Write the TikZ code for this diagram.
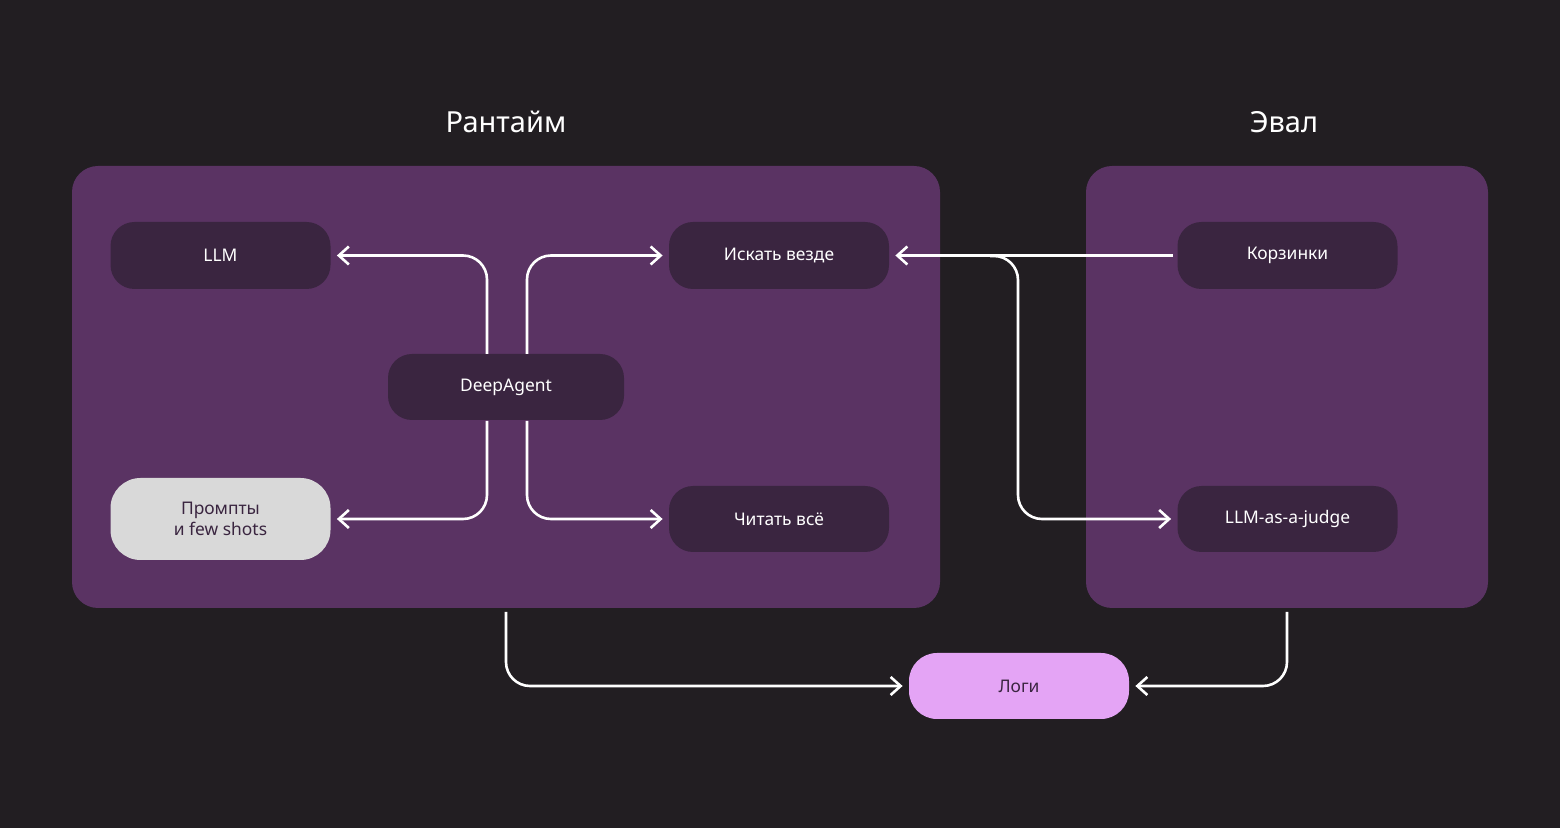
\documentclass[tikz,border=0pt]{standalone}
\usepackage{fontspec}
\setmainfont{Noto Sans}
\usetikzlibrary{arrows.meta}
\definecolor{bg}{HTML}{221E22}
\definecolor{panel}{HTML}{5A3363}
\definecolor{dnode}{HTML}{3A2540}
\definecolor{lnode}{HTML}{D9D9D9}
\definecolor{pink}{HTML}{E4A4F5}
\begin{document}
\begin{tikzpicture}[x=0.5pt,y=-0.5pt,
  panel/.style={fill=panel,rounded corners=13pt},
  box/.style={fill=dnode,rounded corners=12pt,text=white,font=\fontsize{8.7}{10.5}\selectfont,align=center},
  title/.style={text=white,font=\fontsize{14.5}{17}\selectfont\bfseries},
  arr/.style={draw=white,line width=1.3pt,rounded corners=12pt,-{Straight Barb[length=5pt,width=9pt,line width=1.3pt]}},
  ln/.style={draw=white,line width=1.3pt,rounded corners=12pt}]
\fill[bg] (0,0) rectangle (1560,828);
\node[title] (t1) at (506,122) {Рантайм};
\node[title] (t2) at (1284,122) {Эвал};
\path[panel] (72,166) rectangle (940,608);
\path[panel] (1086,166) rectangle (1488,608);
\coordinate (rb) at (506,612);
\coordinate (eb) at (1287,612);
\newcommand{\bx}[6]{\path[box,#6] (#2,#3) rectangle (#4,#5) node[pos=.5] (#1) {};}
\node[box,minimum width=110pt,minimum height=33.5pt] (llm) at (220.5,255.5) {LLM};
\node[box,minimum width=110pt,minimum height=33.5pt] (isk) at (779,255.5) {Искать везде};
\node[box,minimum width=118pt,minimum height=33pt] (da) at (506,387) {DeepAgent};
\node[box,fill=lnode,text=dnode,minimum width=110pt,minimum height=41pt,rounded corners=15pt] (pr) at (220.5,519) {Промпты\\и few shots};
\node[box,minimum width=110pt,minimum height=33pt] (cht) at (779,519) {Читать всё};
\node[box,minimum width=110pt,minimum height=33.5pt] (kor) at (1287.5,255.5) {Корзинки};
\node[box,minimum width=110pt,minimum height=33pt] (jud) at (1287.5,519) {LLM-as-a-judge};
\node[box,fill=pink,text=dnode,minimum width=110pt,minimum height=33pt,rounded corners=14pt] (log) at (1019,686) {Логи};
\draw[arr] (487,354) |- ([xshift=3pt]llm.east);
\draw[arr] (527,354) |- ([xshift=-3pt]isk.west);
\draw[arr] (487,421) |- ([xshift=3pt]pr.east);
\draw[arr] (527,421) |- ([xshift=-3pt]cht.west);
\draw[arr] ([xshift=-2pt]kor.west) -- ([xshift=3pt]isk.east);
\draw[arr] (990,256) -| (1018,400) |- ([xshift=-3pt]jud.west);
\draw[arr] (rb) |- ([xshift=-3pt]log.west);
\draw[arr] (eb) |- ([xshift=3pt]log.east);
\end{tikzpicture}
\end{document}
